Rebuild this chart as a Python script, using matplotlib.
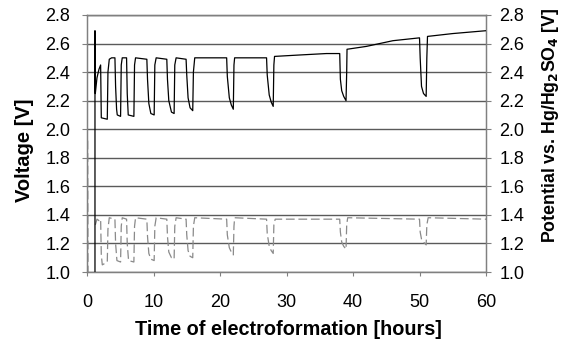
import numpy as np
import matplotlib
matplotlib.use('Agg')
import matplotlib.pyplot as plt

plt.rcParams['font.family'] = ['Liberation Sans', 'DejaVu Sans']

# cell voltage (black, solid): time [h], voltage [V]
volt_t = [1.2, 1.2, 1.25, 1.5, 1.8, 2.05, 2.15, 3.05, 3.15, 3.35, 3.7, 4.2, 4.3, 4.45, 4.55, 5.05,
          5.15, 5.3, 5.95, 6.05, 6.2, 7.05, 7.15, 7.3, 9.0, 9.1, 9.3, 9.6, 10.1,
          10.2, 10.4, 12.0, 12.1, 12.3, 12.7, 13.1, 13.2, 13.4, 14.9, 15.0, 15.2, 15.5, 15.9,
          16.0, 16.2, 21.0, 21.1, 21.4, 21.7, 22.0, 22.1, 22.2, 27.0, 27.1, 27.4, 27.7, 28.0,
          28.1, 28.2, 32.0, 36.0, 38.0, 38.1, 38.3, 38.6, 38.95, 39.05, 39.1, 42.0, 46.0, 50.0,
          50.1, 50.3, 50.6, 51.0, 51.1, 51.2, 55.0, 60.0]
volt_v = [0.9, 2.69, 2.25, 2.36, 2.42, 2.45, 2.08, 2.07, 2.40, 2.49, 2.50, 2.50, 2.30, 2.14, 2.10, 2.09,
          2.45, 2.50, 2.50, 2.25, 2.10, 2.09, 2.45, 2.50, 2.49, 2.35, 2.18, 2.11, 2.10,
          2.45, 2.50, 2.49, 2.35, 2.20, 2.12, 2.11, 2.45, 2.50, 2.49, 2.38, 2.22, 2.15, 2.13,
          2.40, 2.50, 2.50, 2.37, 2.22, 2.17, 2.14, 2.45, 2.50, 2.50, 2.38, 2.24, 2.19, 2.16,
          2.45, 2.51, 2.52, 2.53, 2.53, 2.35, 2.27, 2.23, 2.20, 2.40, 2.56, 2.58, 2.62, 2.64,
          2.50, 2.30, 2.25, 2.23, 2.50, 2.65, 2.67, 2.69]

# electrode potential vs. Hg/Hg2SO4 (grey, dashed)
pot_t = [0.1, 0.15, np.nan, 1.25, 1.5, 1.8, 2.05, 2.15, 2.3, 3.05, 3.15, 3.35, 4.2, 4.3, 4.5, 5.05,
         5.15, 5.3, 5.95, 6.05, 6.25, 7.05, 7.15, 7.3, 9.0, 9.1, 9.3, 9.6, 10.1,
         10.2, 10.4, 12.0, 12.1, 12.3, 12.7, 13.1, 13.2, 13.4, 14.9, 15.0, 15.2, 15.5, 15.9,
         16.0, 16.2, 21.0, 21.1, 21.4, 21.7, 22.0, 22.1, 22.2, 27.0, 27.1, 27.4, 27.7, 28.0,
         28.1, 28.3, 38.0, 38.1, 38.3, 38.6, 38.95, 39.05, 39.2, 50.0, 50.1, 50.3, 50.6, 51.0,
         51.1, 51.3, 60.0]
pot_v = [1.92, 0.98, np.nan, 1.33, 1.37, 1.36, 1.37, 1.12, 1.05, 1.07, 1.30, 1.38, 1.37, 1.20, 1.08, 1.07,
         1.32, 1.38, 1.37, 1.20, 1.08, 1.07, 1.32, 1.38, 1.37, 1.25, 1.13, 1.09, 1.08,
         1.32, 1.38, 1.37, 1.25, 1.14, 1.10, 1.09, 1.32, 1.38, 1.37, 1.26, 1.15, 1.11, 1.10,
         1.32, 1.38, 1.37, 1.26, 1.17, 1.14, 1.12, 1.32, 1.38, 1.37, 1.27, 1.18, 1.15, 1.13,
         1.33, 1.37, 1.37, 1.28, 1.21, 1.18, 1.16, 1.33, 1.38, 1.37, 1.28, 1.23, 1.21, 1.19,
         1.33, 1.38, 1.37]

yticks = [1.0, 1.2, 1.4, 1.6, 1.8, 2.0, 2.2, 2.4, 2.6, 2.8]
xticks = [0, 10, 20, 30, 40, 50, 60]

fig = plt.figure(figsize=(5.62, 3.44), dpi=100)
ax = fig.add_axes([0.1548, 0.2093, 0.7100, 0.7471])

for y in yticks:
    ax.axhline(y, color='#5a5a5a', lw=1.0, zorder=1)

ax.plot(volt_t, volt_v, color='black', lw=0.9, zorder=3)
ax.plot(pot_t, pot_v, color='#8a8a8a', lw=0.9, ls=(0, (7, 3)), zorder=2)

ax.set_xlim(0, 60)
ax.set_ylim(1.0, 2.8)
ax.set_xticks(xticks)
ax.set_yticks(yticks)
ax.set_yticklabels(['%.1f' % v for v in yticks])
ax.tick_params(axis='both', direction='out', color='#808080', labelsize=13)
ax.tick_params(axis='x', length=3, pad=13)
ax.tick_params(axis='y', length=3.6, pad=8.5)
for s in ax.spines.values():
    s.set_color('#808080')
    s.set_linewidth(1.0)
ax.spines['top'].set_color('#5a5a5a')

ax2 = ax.twinx()
ax2.set_ylim(1.0, 2.8)
ax2.set_yticks(yticks)
ax2.set_yticklabels(['%.1f' % v for v in yticks])
ax2.tick_params(axis='y', direction='out', length=3.6, color='#808080', labelsize=13, pad=6)
for s in ax2.spines.values():
    s.set_color('#808080')

ax.set_xlabel('Time of electroformation [hours]', fontsize=14.3, fontweight='bold')
ax.set_ylabel('Voltage [V]', fontsize=14.5, fontweight='bold')
ax2.set_ylabel(r'Potential vs. Hg/Hg$_\mathbf{2}$SO$_\mathbf{4}$ [V]', fontsize=12.8, fontweight='bold')
ax.xaxis.set_label_coords(0.504, -0.185)
ax.yaxis.set_label_coords(-0.132, 0.475)
ax2.yaxis.set_label_coords(1.135, 0.572)

fig.savefig('out.png', dpi=100)
